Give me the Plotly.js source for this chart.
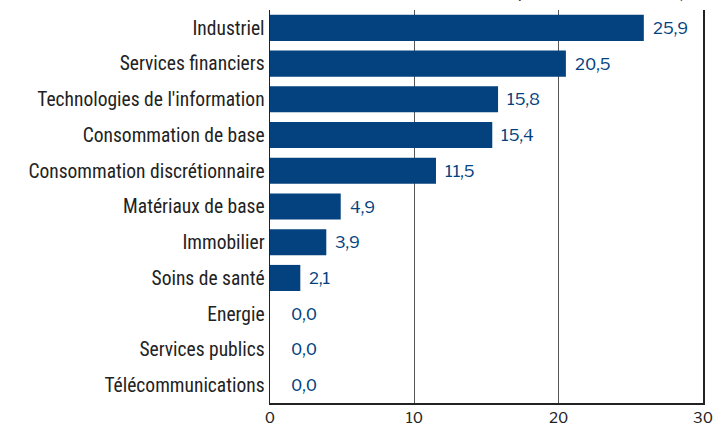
<!DOCTYPE html>
<html><head><meta charset="utf-8">
<script src="https://cdn.plot.ly/plotly-3.0.1.min.js"></script>
<style>html,body{margin:0;padding:0;background:#fff}</style>
</head><body>
<div id="chart" style="width:713px;height:423px"></div>
<script>
const categories = ["Industriel","Services financiers","Technologies de l'information","Consommation de base","Consommation discrétionnaire","Matériaux de base","Immobilier","Soins de santé","Energie","Services publics","Télécommunications"];
const values = [25.9, 20.5, 15.8, 15.4, 11.5, 4.9, 3.9, 2.1, 0.0, 0.0, 0.0];
const xTicks = [0, 10, 20, 30];
const chartTitle = "Répartition sectorielle (en %)";

const blue = "#03427e";
const labelAnn = values.map((v, i) => ({
  x: v, y: categories[i], xref: "x", yref: "y",
  text: v.toFixed(1).replace(".", ","), showarrow: false,
  xanchor: "left", yanchor: "middle", xshift: v === 0 ? 19 : 7,
  font: {family: "Libre Franklin, Roboto, Arial", size: 16.5, color: blue}
}));
Plotly.newPlot("chart", [{
  type: "bar", orientation: "h",
  y: categories, x: values,
  marker: {color: blue},
  hoverinfo: "none"
}], {
  width: 713, height: 423,
  margin: {l: 270, r: 10, t: 10, b: 20},
  separators: ",.",
  bargap: 0.27,
  showlegend: false,
  paper_bgcolor: "#fff", plot_bgcolor: "#fff",
  xaxis: {range: [0, 30], tickvals: xTicks, showgrid: true, gridcolor: "#555", gridwidth: 1,
          zeroline: false, showline: true, linecolor: "#222", linewidth: 1.5, ticks: "",
          tickfont: {family: "Libre Franklin, Roboto, Arial", size: 15, color: "#222"}, fixedrange: true},
  yaxis: {autorange: "reversed", showline: true, linecolor: "#222", linewidth: 1.5, mirror: true,
          ticks: "", ticklabelstandoff: 0,
          tickfont: {family: "Liberation Sans Narrow, Arial Narrow, Roboto Condensed, Arial", size: 19.5, color: "#222"}},
  annotations: labelAnn.concat([{text: chartTitle, xref: "paper", yref: "paper", x: 1.0, y: 1.0153, xanchor: "right", yanchor: "bottom",
                 xshift: 25, showarrow: false, font: {family: "Roboto, Arial", size: 18, color: "#444"}}])
}, {staticPlot: true});
</script>
</body></html>
